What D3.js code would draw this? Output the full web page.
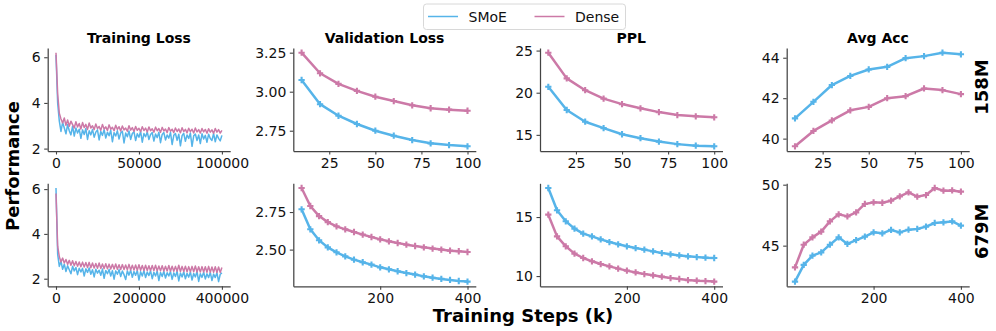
<!DOCTYPE html>
<html>
<head>
<meta charset="utf-8">
<script src="https://cdn.jsdelivr.net/npm/d3@7"></script>
<style>
body { margin: 0; background: #fff; }
svg { font-family: "DejaVu Sans", sans-serif; }
</style>
</head>
<body>
<div class="chart"></div>
<script>
// ---- data ----
const seriesNames = ["SMoE", "Dense"];
const seriesColors = ["#56B4E9", "#CC79A7"];
const rowNames = ["158M", "679M"];
const titles = ["Training Loss", "Validation Loss", "PPL", "Avg Acc"];

// training loss curves (evenly logged steps up to the max step)
const trainMax158 = 100000;
const trainMax679 = 400000;
const trainLoss158Smoe = [6.1,4.0,3.2,2.75,3.15,2.9,2.65,3.05,2.78,2.6,2.98,2.55,2.9,2.68,2.85,2.45,2.82,2.62,2.88,2.4,2.78,2.6,2.84,2.5,2.72,2.82,2.38,2.75,2.58,2.83,2.46,2.72,2.56,2.8,2.3,2.7,2.55,2.78,2.42,2.68,2.76,2.25,2.68,2.52,2.77,2.4,2.66,2.74,2.35,2.65,2.5,2.75,2.28,2.66,2.52,2.73,2.4,2.62,2.7,2.33,2.64,2.48,2.72,2.26,2.62,2.7,2.38,2.6,2.46,2.71,2.18,2.58,2.66,2.36,2.63,2.12,2.57,2.67,2.32,2.6,2.44,2.68,2.1,2.56,2.64,2.35,2.6,2.22,2.65,2.42,2.58,2.28,2.63,2.44,2.36,2.66,2.3,2.6,2.45,2.34,2.58];
const trainLoss158Dense = [6.2,4.4,3.55,3.3,3.12,3.34,3.02,3.25,2.98,3.2,3.05,2.9,3.18,2.95,3.1,2.86,3.14,2.92,3.06,2.84,3.12,2.9,3.0,2.83,3.08,2.88,2.97,2.8,3.06,2.86,2.95,2.79,3.04,2.85,2.93,2.78,3.02,2.84,2.96,2.77,2.99,2.82,2.9,2.76,3.0,2.81,2.92,2.75,2.97,2.8,2.89,2.74,2.96,2.79,2.9,2.73,2.95,2.78,2.87,2.72,2.94,2.78,2.88,2.71,2.93,2.77,2.86,2.7,2.92,2.76,2.85,2.7,2.9,2.75,2.86,2.69,2.91,2.75,2.84,2.69,2.89,2.74,2.85,2.68,2.9,2.73,2.83,2.68,2.88,2.73,2.84,2.67,2.87,2.72,2.82,2.67,2.88,2.72,2.83,2.68,2.8];
const trainLoss679Smoe = [6.05,3.1,2.55,2.78,2.42,2.65,2.32,2.58,2.4,2.22,2.55,2.35,2.5,2.18,2.47,2.3,2.46,2.12,2.44,2.28,2.48,2.2,2.4,2.08,2.42,2.25,2.38,2.15,2.43,2.02,2.37,2.22,2.41,2.12,2.36,1.98,2.35,2.2,2.4,2.1,2.34,2.18,1.96,2.35,2.16,2.38,2.06,2.32,2.15,2.37,1.94,2.31,2.12,2.36,2.05,2.3,2.14,2.35,2.0,2.29,2.12,2.34,1.92,2.28,2.1,2.33,2.03,2.27,2.12,2.32,1.97,2.26,2.1,2.33,1.9,2.25,2.08,2.31,2.0,2.24,2.07,2.3,1.94,2.23,2.08,2.32,1.88,2.22,2.06,2.29,1.99,2.22,2.05,2.28,1.92,2.21,2.05,2.27,1.87,2.2,2.26];
const trainLoss679Dense = [5.8,3.45,2.98,2.75,2.92,2.7,2.86,2.64,2.82,2.6,2.8,2.58,2.77,2.56,2.75,2.53,2.74,2.52,2.72,2.5,2.73,2.49,2.7,2.48,2.68,2.47,2.7,2.46,2.66,2.45,2.67,2.44,2.65,2.43,2.64,2.43,2.66,2.42,2.62,2.41,2.63,2.41,2.61,2.4,2.64,2.39,2.6,2.39,2.61,2.38,2.62,2.38,2.59,2.37,2.6,2.37,2.58,2.36,2.59,2.36,2.6,2.35,2.57,2.35,2.58,2.34,2.56,2.34,2.59,2.33,2.56,2.33,2.55,2.33,2.6,2.32,2.55,2.32,2.56,2.31,2.54,2.31,2.55,2.31,2.57,2.3,2.53,2.3,2.54,2.3,2.53,2.29,2.55,2.29,2.52,2.29,2.53,2.28,2.52,2.28,2.5];

// eval checkpoints (k steps)
const steps158 = [10,20,30,40,50,60,70,80,90,100];
const steps679 = [20,40,60,80,100,120,140,160,180,200,220,240,260,280,300,320,340,360,380,400];

const valLoss158Smoe = [3.075,2.92,2.846,2.793,2.75,2.718,2.69,2.669,2.658,2.65];
const valLoss158Dense = [3.25,3.118,3.05,3.005,2.968,2.94,2.913,2.894,2.885,2.878];
const ppl158Smoe = [20.7,17.95,16.56,15.8,15.07,14.6,14.2,13.9,13.72,13.64];
const ppl158Dense = [24.75,21.7,20.3,19.3,18.65,18.15,17.7,17.35,17.2,17.08];
const acc158Smoe = [41.0,41.82,42.65,43.1,43.42,43.55,43.98,44.08,44.25,44.17];
const acc158Dense = [39.62,40.38,40.9,41.4,41.57,42.0,42.1,42.48,42.4,42.2];

const valLoss679Smoe = [2.768,2.635,2.562,2.515,2.482,2.455,2.433,2.416,2.40,2.382,2.369,2.356,2.344,2.334,2.322,2.313,2.305,2.298,2.291,2.287];
const valLoss679Dense = [2.91,2.79,2.723,2.683,2.655,2.635,2.617,2.60,2.584,2.568,2.555,2.544,2.533,2.524,2.515,2.507,2.50,2.493,2.489,2.484];
const ppl679Smoe = [17.46,15.57,14.64,14.02,13.59,13.36,13.11,12.88,12.69,12.52,12.37,12.24,12.09,11.95,11.84,11.75,11.67,11.61,11.56,11.53];
const ppl679Dense = [15.2,13.36,12.52,11.9,11.53,11.25,11.02,10.82,10.63,10.46,10.31,10.17,10.06,9.95,9.83,9.75,9.66,9.61,9.58,9.53];
const acc679Smoe = [42.05,43.42,44.18,44.45,45.08,45.68,45.14,45.46,45.74,46.09,46.01,46.29,46.09,46.31,46.37,46.56,46.86,46.91,46.99,46.64];
const acc679Dense = [43.22,45.08,45.68,46.15,46.99,47.57,47.4,47.73,48.42,48.55,48.52,48.69,49.04,49.37,49.02,49.15,49.73,49.51,49.53,49.43];

// tick labels
const xTicks = [[0,50000,100000],[25,50,75,100],[25,50,75,100],[25,50,75,100],
                [0,200000,400000],[200,400],[200,400],[200,400]];
const yTicks = [[2,4,6],[2.75,3.00,3.25],[15,20,25],[40,42,44],
                [2,4,6],[2.50,2.75],[10,15],[45,50]];

function trainSteps(vals, maxStep) {
    return vals.map((v, i) => i * maxStep / (vals.length - 1));
}

const panels = [
    {x: trainSteps(trainLoss158Smoe, trainMax158), s: [trainLoss158Smoe, trainLoss158Dense], train: true},
    {x: steps158, s: [valLoss158Smoe, valLoss158Dense], fmt: ".2f"},
    {x: steps158, s: [ppl158Smoe, ppl158Dense]},
    {x: steps158, s: [acc158Smoe, acc158Dense]},
    {x: trainSteps(trainLoss679Smoe, trainMax679), s: [trainLoss679Smoe, trainLoss679Dense], train: true},
    {x: steps679, s: [valLoss679Smoe, valLoss679Dense], fmt: ".2f"},
    {x: steps679, s: [ppl679Smoe, ppl679Dense]},
    {x: steps679, s: [acc679Smoe, acc679Dense]}
];

// ---- layout ----
const W = 996, H = 331;
const colX = [47.7, 293.3, 540, 786.7];
const rowY = [48, 183.3];
const pw = 182.5, ph = 103;

const svg = d3.select(".chart").append("svg")
    .attr("width", W)
    .attr("height", H);

function pad(ext) {
    const d = ext[1] - ext[0];
    return [ext[0] - 0.05 * d, ext[1] + 0.05 * d];
}

panels.forEach((p, k) => {
    const row = Math.floor(k / 4), col = k % 4;
    const g = svg.append("g")
        .attr("transform", `translate(${colX[col]},${rowY[row]})`);

    const xScale = d3.scaleLinear()
        .domain(pad(d3.extent(p.x)))
        .range([0, pw]);
    const yScale = d3.scaleLinear()
        .domain(pad(d3.extent(p.s[0].concat(p.s[1]))))
        .range([ph, 0]);

    const line = d3.line()
        .x((d, i) => xScale(p.x[i]))
        .y(d => yScale(d));

    p.s.forEach((vals, si) => {
        g.append("path")
            .datum(vals)
            .attr("fill", "none")
            .attr("stroke", seriesColors[si])
            .attr("stroke-width", p.train ? 1.5 : 2.5)
            .attr("stroke-linejoin", "round")
            .attr("d", line);
        if (!p.train) {
            g.selectAll(".m" + si)
                .data(vals)
                .enter()
                .append("path")
                .attr("class", "m" + si)
                .attr("transform", (d, i) => `translate(${xScale(p.x[i])},${yScale(d)})`)
                .attr("d", d3.symbol(d3.symbolCross, 22))
                .attr("fill", seriesColors[si]);
        }
    });

    const xAxis = d3.axisBottom(xScale)
        .tickValues(xTicks[k])
        .tickFormat(d3.format("d"))
        .tickSize(3.5)
        .tickPadding(3.5)
        .tickSizeOuter(0);
    const yAxis = d3.axisLeft(yScale)
        .tickValues(yTicks[k])
        .tickFormat(d3.format(p.fmt || "d"))
        .tickSize(3.5)
        .tickPadding(3.5)
        .tickSizeOuter(0);

    g.append("g")
        .attr("transform", `translate(0,${ph})`)
        .call(xAxis)
        .call(a => a.select(".domain").attr("stroke", "#444").attr("stroke-width", 1.25))
        .call(a => a.selectAll(".tick line").attr("stroke", "#444").attr("stroke-width", 1.1))
        .call(a => a.selectAll(".tick text").attr("font-size", 14).attr("fill", "#111"))
        .attr("font-family", null);

    g.append("g")
        .call(yAxis)
        .call(a => a.select(".domain").attr("stroke", "#444").attr("stroke-width", 1.25))
        .call(a => a.selectAll(".tick line").attr("stroke", "#444").attr("stroke-width", 1.1))
        .call(a => a.selectAll(".tick text").attr("font-size", 14).attr("fill", "#111"))
        .attr("font-family", null);

    if (row === 0) {
        g.append("text")
            .attr("x", pw / 2)
            .attr("y", -5)
            .attr("text-anchor", "middle")
            .attr("font-size", 14)
            .attr("font-weight", "bold")
            .text(titles[col]);
    }
    if (col === 3) {
        g.append("text")
            .attr("transform", `translate(${pw + 12},${row === 0 ? 39 : 48}) rotate(-90)`)
            .attr("dy", "0.35em")
            .attr("text-anchor", "middle")
            .attr("font-size", 18)
            .attr("font-weight", "bold")
            .text(rowNames[row]);
    }
});

// shared axis labels
svg.append("text")
    .attr("transform", "translate(13,166) rotate(-90)")
    .attr("dy", "0.35em")
    .attr("text-anchor", "middle")
    .attr("font-size", 18)
    .attr("font-weight", "bold")
    .text("Performance");

svg.append("text")
    .attr("x", 523)
    .attr("y", 322)
    .attr("text-anchor", "middle")
    .attr("font-size", 18)
    .attr("font-weight", "bold")
    .text("Training Steps (k)");

// legend
const legend = svg.append("g");
legend.append("rect")
    .attr("x", 423.5)
    .attr("y", 4)
    .attr("width", 202)
    .attr("height", 25.5)
    .attr("rx", 3)
    .attr("fill", "white")
    .attr("stroke", "#d8d8d8");
const legendX = [428, 534.5];
seriesNames.forEach((name, i) => {
    legend.append("line")
        .attr("x1", legendX[i])
        .attr("x2", legendX[i] + 30)
        .attr("y1", 16.5)
        .attr("y2", 16.5)
        .attr("stroke", seriesColors[i])
        .attr("stroke-width", 1.5);
    legend.append("text")
        .attr("x", legendX[i] + 40.5)
        .attr("y", 21.5)
        .attr("font-size", 14)
        .attr("fill", "#111")
        .text(name);
});
</script>
</body>
</html>
